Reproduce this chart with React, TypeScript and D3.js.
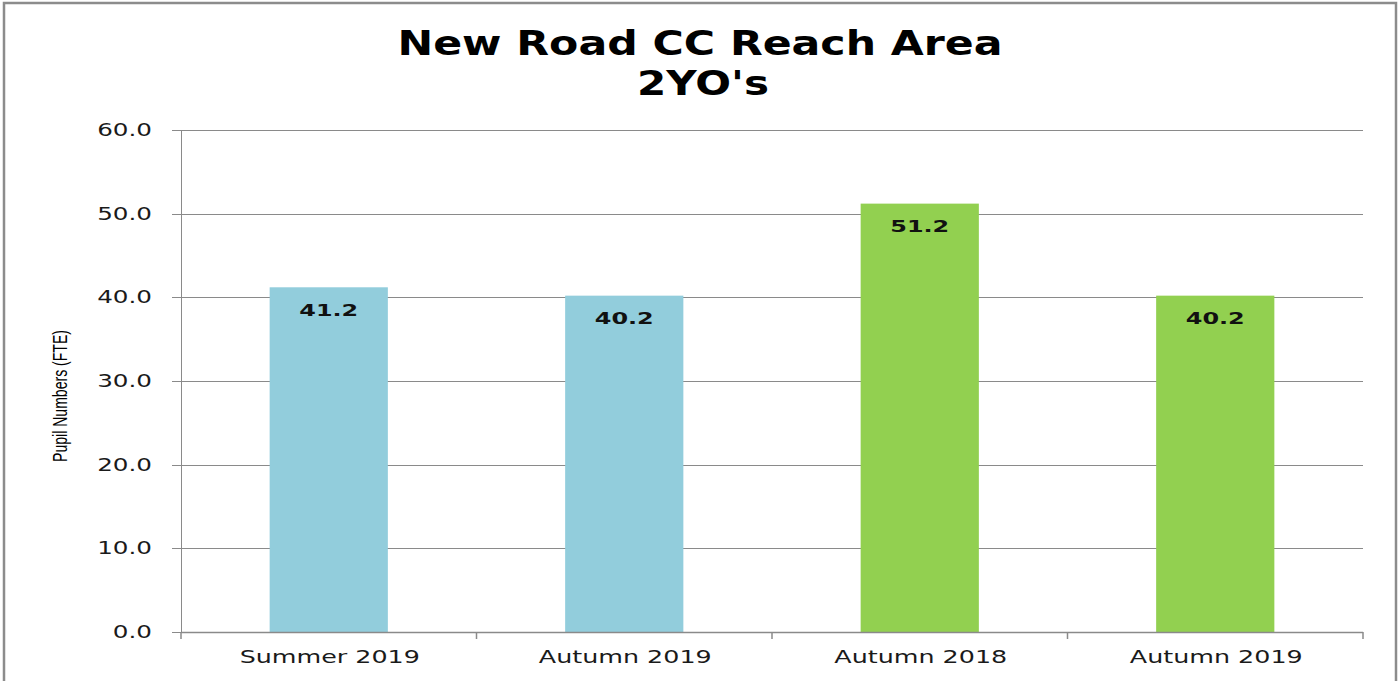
import React from "react";
import * as d3 from "d3";

const categories = ["Summer 2019", "Autumn 2019", "Autumn 2018", "Autumn 2019 "];
const values = [41.2, 40.2, 51.2, 40.2];
const barColors = ["#92CDDC", "#92CDDC", "#92D050", "#92D050"];
const yTicks = [0, 10, 20, 30, 40, 50, 60];
const titleLines = ["New Road CC Reach Area", "2YO's"];
const yAxisTitle = "Pupil Numbers (FTE)";

const W = 1400;
const H = 681;
const left = 181;
const right = 1363;
const top = 130;
const bottom = 632;
const SX = 1.45;
const GRID = "#8a8a8a";

export default function App() {
  const x = d3.scaleBand<string>().domain(categories).range([left, right]).paddingInner(0.6).paddingOuter(0.3);
  const y = d3.scaleLinear().domain([0, 60]).range([bottom, top]);
  const fmt = d3.format(".1f");
  const boundaries = d3.range(categories.length + 1).map((i) => left + (i * (right - left)) / categories.length);

  return (
    <svg width={W} height={H} style={{ position: "absolute", left: 0, top: 0, background: "#fff" }}>
      <rect x={4} y={3} width={1392} height={700} fill="#fff" stroke="#8c8c8c" strokeWidth={2.5} />
      {/* title */}
      <text x={700} y={55} textAnchor="middle" fontFamily="DejaVu Sans" fontWeight="bold" fontSize={33}
        textLength={605} lengthAdjust="spacingAndGlyphs" fill="#000">{titleLines[0]}</text>
      <text x={703} y={95} textAnchor="middle" fontFamily="DejaVu Sans" fontWeight="bold" fontSize={33}
        textLength={132} lengthAdjust="spacingAndGlyphs" fill="#000">{titleLines[1]}</text>
      {/* gridlines and y ticks */}
      {yTicks.map((t) => (
        <g key={t}>
          <line x1={172} x2={right} y1={Math.round(y(t)) + 0.5} y2={Math.round(y(t)) + 0.5} stroke={GRID} strokeWidth={1} />
          <text transform={`translate(152, ${y(t) + 6}) scale(${SX},1)`} textAnchor="end" fontFamily="DejaVu Sans"
            fontSize={17} fill="#1a1a1a">{fmt(t)}</text>
        </g>
      ))}
      {/* y axis */}
      <line x1={left + 0.5} x2={left + 0.5} y1={top} y2={bottom} stroke={GRID} strokeWidth={1} />
      {/* bars */}
      {categories.map((c, i) => (
        <rect key={c} x={x(c)} y={y(values[i])} width={x.bandwidth()} height={bottom - y(values[i])} fill={barColors[i]} />
      ))}
      {/* x axis */}
      <line x1={left} x2={right} y1={bottom + 0.5} y2={bottom + 0.5} stroke={GRID} strokeWidth={1.5} />
      {boundaries.map((b, i) => (
        <line key={i} x1={b} x2={b} y1={bottom} y2={bottom + 7} stroke={GRID} strokeWidth={1.5} />
      ))}
      {/* data labels */}
      {categories.map((c, i) => (
        <text key={c} transform={`translate(${(x(c) as number) + x.bandwidth() / 2}, ${y(values[i]) + 28.5}) scale(${SX},1)`}
          textAnchor="middle" fontFamily="DejaVu Sans" fontWeight="bold" fontSize={16.5} fill="#111">{fmt(values[i])}</text>
      ))}
      {/* x labels */}
      {categories.map((c, i) => (
        <text key={c} transform={`translate(${(x(c) as number) + x.bandwidth() / 2 + 1}, 663) scale(${SX},1)`}
          textAnchor="middle" fontFamily="DejaVu Sans" fontSize={17.5} fill="#1a1a1a">{c.trim()}</text>
      ))}
      {/* y axis title */}
      <text transform="translate(67, 396) rotate(-90)" textAnchor="middle" fontFamily="Liberation Sans" fontSize={19.5}
        textLength={132} lengthAdjust="spacingAndGlyphs" fill="#000">{yAxisTitle}</text>
    </svg>
  );
}
